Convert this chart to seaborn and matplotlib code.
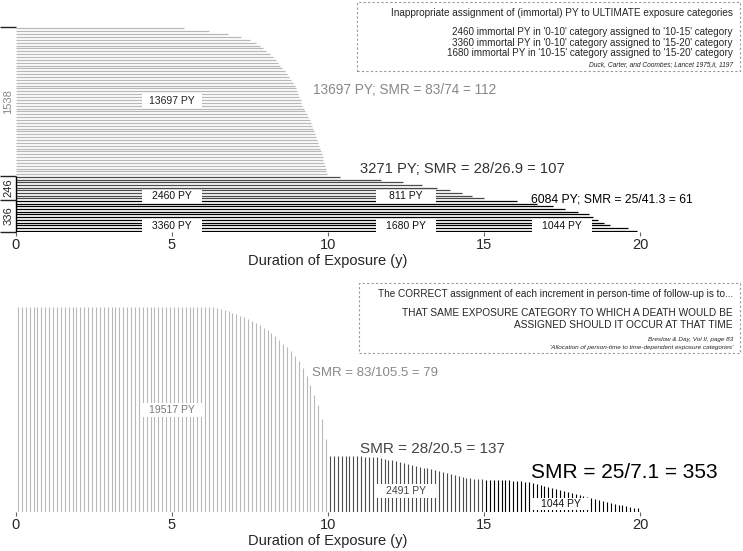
import matplotlib
matplotlib.use("Agg")
import matplotlib.pyplot as plt
from matplotlib.patches import Rectangle
import numpy as np
import seaborn as sns

# ---- top panel: one segment per block of subjects, length = ultimate exposure (y)
group_labels = ["1538", "246", "336"]
group_sizes = [1538, 246, 336]

durations_0_10 = [5.4, 6.2, 6.8, 7.2, 7.5, 7.7, 7.82, 7.92, 8.02, 8.15,
                  8.25, 8.34, 8.41, 8.47, 8.53, 8.61, 8.67, 8.75, 8.82, 8.88,
                  8.93, 8.97, 9.01, 9.05, 9.08, 9.12, 9.15, 9.18, 9.22, 9.27,
                  9.32, 9.37, 9.41, 9.45, 9.48, 9.52, 9.55, 9.58, 9.62, 9.66,
                  9.69, 9.72, 9.75, 9.78, 9.80, 9.83, 9.85, 9.87, 9.90, 9.92,
                  9.95, 9.97]
durations_10_15 = [10.4, 11.7, 12.4, 13.0, 13.5, 13.9, 14.3, 14.6, 15.0]
durations_15_20 = [16.05, 16.7, 17.2, 17.6, 18.0, 18.35, 18.5, 18.66, 18.85,
                   19.04, 19.6, 19.9]

# ---- bottom panel: number still at risk, one line every 0.125 y
risk_step = 0.125
at_risk_0_10 = [2120, 2120, 2120, 2120, 2120, 2120, 2120, 2120, 2120, 2120,
                2120, 2120, 2120, 2120, 2120, 2120, 2120, 2120, 2120, 2120,
                2120, 2120, 2120, 2120, 2120, 2120, 2120, 2120, 2120, 2120,
                2120, 2120, 2120, 2120, 2120, 2120, 2120, 2120, 2120, 2120,
                2120, 2120, 2120, 2120, 2120, 2120, 2120, 2120, 2120, 2120,
                2120, 2112, 2102, 2090, 2076, 2062, 2048, 2032, 2016, 1998,
                1978, 1956, 1932, 1906, 1878, 1848, 1815, 1780, 1742, 1702,
                1660, 1612, 1560, 1490, 1405, 1310, 1215, 1110, 960, 760]
at_risk_10_15 = [582, 581, 580, 580, 579, 578, 577, 576, 575, 573,
                 571, 568, 564, 558, 550, 542, 533, 524, 515, 506,
                 497, 488, 479, 470, 460, 450, 440, 430, 420, 410,
                 400, 390, 380, 371, 363, 356, 350, 346, 342, 339]
at_risk_15_20 = [336, 335, 334, 333, 331, 329, 326, 323, 320, 316,
                 311, 306, 300, 292, 283, 272, 262, 250, 238, 226,
                 214, 203, 192, 181, 171, 162, 154, 147, 138, 128,
                 118, 107, 96, 86, 77, 68, 60, 52, 45, 38]

colors = ["#b8b8b8", "#4a4a4a", "#000000"]

sns.set_theme(style="white")
plt.rcParams["font.family"] = ["Liberation Sans", "DejaVu Sans"]

W, H = 743, 551
fig = plt.figure(figsize=(W / 100, H / 100), dpi=100)


def fx(x):
    return x / W


def fy(y):
    return 1 - y / H


ax1 = fig.add_axes([fx(16), fy(232), 624 / W, 205 / H])
ax2 = fig.add_axes([fx(16), fy(512), 624 / W, 205 / H])
total = sum(group_sizes)

# ---------------- top panel
start = 0
for size, durs, col in zip(group_sizes, [durations_0_10, durations_10_15, durations_15_20], colors):
    step = size / len(durs)
    ys = start + step * (np.arange(len(durs)) + 0.5)
    ax1.hlines(ys, 0, durs, color=col, lw=0.9)
    start += size

ax1.set_xlim(0, 20)
ax1.set_ylim(total, 0)
sns.despine(ax=ax1, top=True, right=True, bottom=True, left=True)
bounds = np.cumsum([0] + group_sizes)
ax1.vlines(0, bounds[1], total, color="black", lw=1, clip_on=False)
ax1.hlines(bounds, -16 / 31.2, 0, color="#222222", lw=1, clip_on=False)
for i, lab in enumerate(group_labels):
    ax1.text(-0.24, (bounds[i] + bounds[i + 1]) / 2, lab, rotation=90,
             ha="center", va="center", fontsize=8,
             color="#888888" if i == 0 else "#222222")

# PY labels on white boxes
def py_box(ax, x, y, txt, h, col, size=7.5):
    ax.add_patch(Rectangle((x - 0.95, y - h / 2), 1.9, h, facecolor="white",
                           edgecolor="none", zorder=3))
    ax.text(x, y, txt, ha="center", va="center", fontsize=size, color=col, zorder=4)


py_box(ax1, 5, 765, "13697 PY", 135, "#222222")
py_box(ax1, 5, 1748, "2460 PY", 135, "#111111")
py_box(ax1, 12.5, 1748, "811 PY", 135, "#111111")
py_box(ax1, 5, 2058, "3360 PY", 135, "#111111")
py_box(ax1, 12.5, 2058, "1680 PY", 135, "#111111")
py_box(ax1, 17.5, 2058, "1044 PY", 135, "#111111")

ax1.set_xticks([0, 5, 10, 15, 20])
ax1.set_yticks([])
ax1.tick_params(axis="x", length=3, width=0.8, color="#666666", pad=1,
                labelsize=10.5, bottom=True)
ax1.set_xlabel("Duration of Exposure (y)", fontsize=10.5, labelpad=2)

# ---------------- bottom panel
at_risk = [at_risk_0_10, at_risk_10_15, at_risk_15_20]
offset = 0
for vals, col in zip(at_risk, colors):
    t = (offset + np.arange(len(vals)) + 0.5) * risk_step
    ax2.vlines(t, 0, vals, color=col, lw=0.8)
    offset += len(vals)

ax2.set_xlim(0, 20)
ax2.set_ylim(0, total)
sns.despine(ax=ax2, top=True, right=True, bottom=True, left=True)
py_box(ax2, 5, 1055, "19517 PY", 145, "#777777")
py_box(ax2, 12.5, 217, "2491 PY", 140, "#444444")
py_box(ax2, 17.45, 83, "1044 PY", 124, "#111111")
ax2.set_xticks([0, 5, 10, 15, 20])
ax2.set_yticks([])
ax2.tick_params(axis="x", length=3, width=0.8, color="#666666", pad=1,
                labelsize=10.5, bottom=True)
ax2.set_xlabel("Duration of Exposure (y)", fontsize=10.5, labelpad=2)

# ---------------- annotations
fig.text(fx(313), fy(90), "13697 PY; SMR = 83/74 = 112", fontsize=9.8,
         color="#888888", va="center")
fig.text(fx(360), fy(169), "3271 PY; SMR = 28/26.9 = 107", fontsize=10.6,
         color="#333333", va="center")
fig.text(fx(531), fy(200), "6084 PY; SMR = 25/41.3 = 61", fontsize=8.8,
         color="black", va="center")
fig.text(fx(312), fy(373), "SMR = 83/105.5 = 79", fontsize=9.5,
         color="#888888", va="center")
fig.text(fx(360), fy(449), "SMR = 28/20.5 = 137", fontsize=11,
         color="#444444", va="center")
fig.text(fx(531), fy(472), "SMR = 25/7.1 = 353", fontsize=15,
         color="black", va="center")

# dashed note boxes
for (x0, y0, x1, y1) in [(357, 2, 740, 71), (359, 283, 740, 353)]:
    fig.add_artist(Rectangle((fx(x0), fy(y1)), (x1 - x0) / W, (y1 - y0) / H,
                             transform=fig.transFigure, fill=False,
                             edgecolor="#999999", lw=0.8, linestyle=(0, (2, 2))))

rx = fx(733)
fig.text(rx, fy(13), "Inappropriate assignment of (immortal) PY to ULTIMATE exposure categories",
         fontsize=7.2, ha="right", va="center")
fig.text(rx, fy(32), "2460 immortal PY in '0-10' category assigned to '10-15' category",
         fontsize=7.1, ha="right", va="center")
fig.text(rx, fy(43), "3360 immortal PY in '0-10' category assigned to '15-20' category",
         fontsize=7.1, ha="right", va="center")
fig.text(rx, fy(53.5), "1680 immortal PY in '10-15' category assigned to '15-20' category",
         fontsize=7.1, ha="right", va="center")
fig.text(rx, fy(65), "Duck, Carter, and Coombes; Lancet 1975,ii, 1197",
         fontsize=4.8, style="italic", ha="right", va="center")

fig.text(rx, fy(294), "The CORRECT assignment of each increment in person-time of follow-up is to...",
         fontsize=7.2, ha="right", va="center")
fig.text(rx, fy(313), "THAT SAME EXPOSURE CATEGORY TO WHICH A DEATH WOULD BE",
         fontsize=7.3, ha="right", va="center")
fig.text(rx, fy(325), "ASSIGNED SHOULD IT OCCUR AT THAT TIME",
         fontsize=7.3, ha="right", va="center")
fig.text(rx, fy(339), "Breslow & Day, Vol II, page 83",
         fontsize=4.6, style="italic", ha="right", va="center")
fig.text(rx, fy(347), "'Allocation of person-time to time-dependent exposure categories'",
         fontsize=4.6, style="italic", ha="right", va="center")

fig.savefig("out.png", dpi=100)
